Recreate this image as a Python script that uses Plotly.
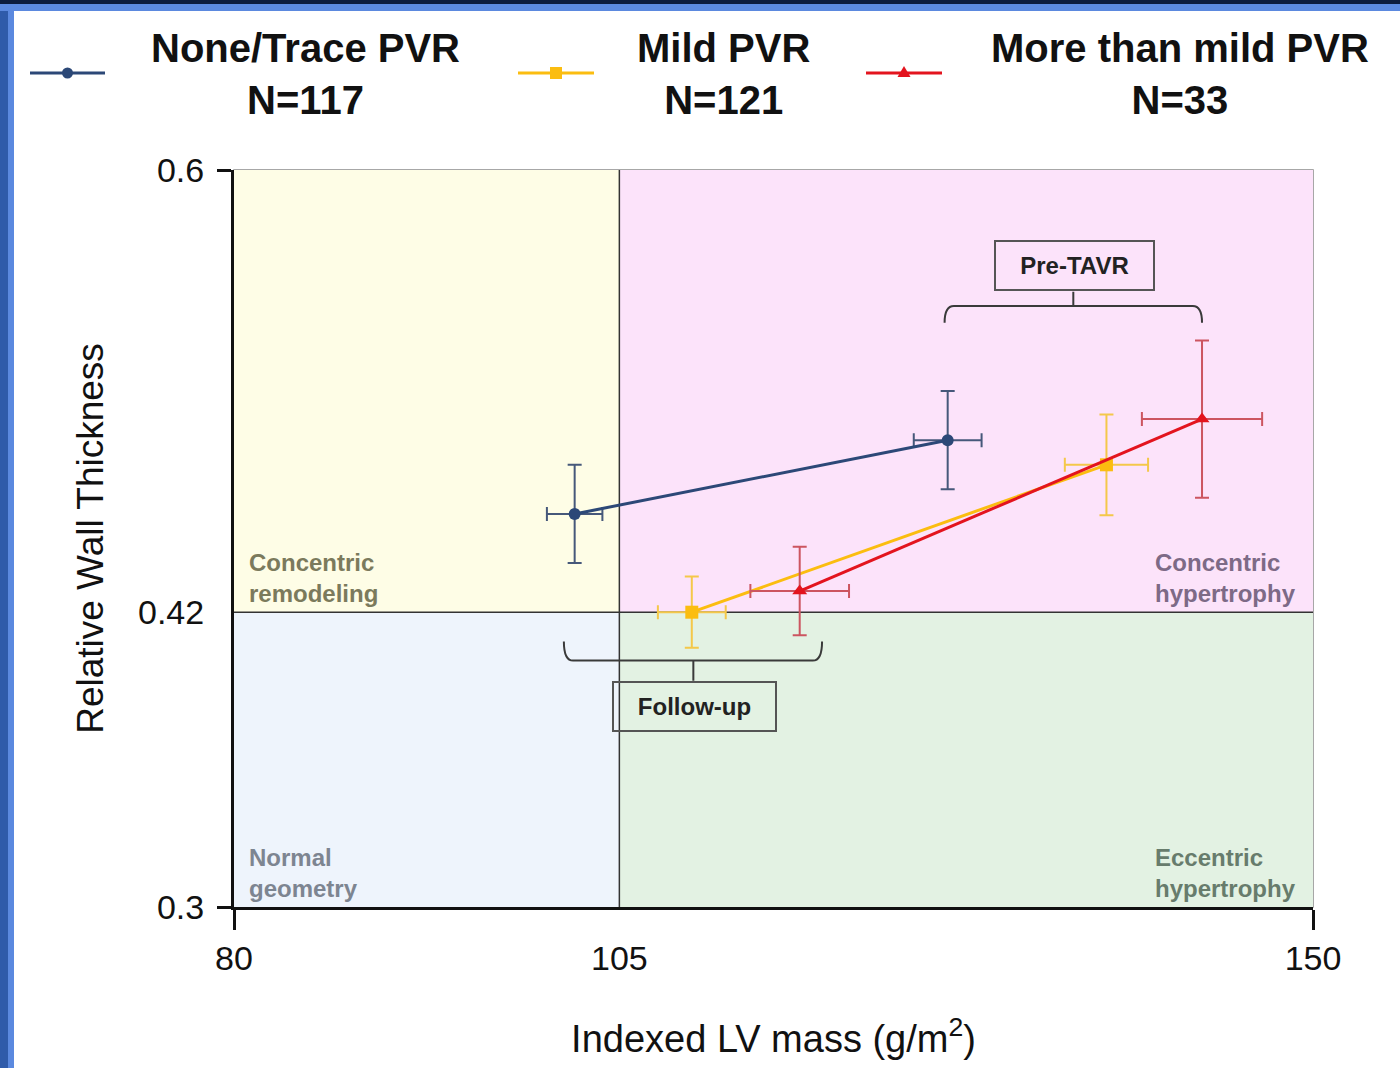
import plotly.graph_objects as go

# ---- axes ----
X_RANGE = [80, 150]
Y_RANGE = [0.3, 0.6]
LVMI_CUT = 105          # g/m2, LV mass index threshold
RWT_CUT = 0.42          # relative wall thickness threshold
x_ticks = [80, 105, 150]
y_ticks = [0.3, 0.42, 0.6]
y_tick_text = ["0.3", "0.42", "0.6"]

# ---- groups ----
groups = ["None/Trace PVR", "Mild PVR", "More than mild PVR"]
group_n = [117, 121, 33]
timepoints = ["Follow-up", "Pre-TAVR"]

# mean values with error half-widths, ordered [follow-up, pre-TAVR]
lvmi_none = [102.1, 126.3]
lvmi_none_err = [1.8, 2.2]
rwt_none = [0.460, 0.490]
rwt_none_err = [0.020, 0.020]

lvmi_mild = [109.7, 136.6]
lvmi_mild_err = [2.2, 2.7]
rwt_mild = [0.420, 0.480]
rwt_mild_err = [0.0145, 0.0205]

lvmi_more = [116.7, 142.8]
lvmi_more_err = [3.2, 3.9]
rwt_more = [0.4286, 0.4986]
rwt_more_err = [0.018, 0.032]

FONT = "Liberation Sans, Arial, Helvetica, sans-serif"

W, H = 1400, 1068
ML, MR, MT, MB = 234, 87, 170, 161
PW, PH = W - ML - MR, H - MT - MB


def px(x):
    """figure pixel column -> paper x"""
    return (x - ML) / PW


def py(y):
    """figure pixel row -> paper y"""
    return (H - MB - y) / PH


series = [
    dict(name=groups[0], x=lvmi_none, xe=lvmi_none_err, y=rwt_none, ye=rwt_none_err,
         color="#2C4877", ecolor="#46587A", symbol="circle", size=12),
    dict(name=groups[1], x=lvmi_mild, xe=lvmi_mild_err, y=rwt_mild, ye=rwt_mild_err,
         color="#FBBD10", ecolor="#F4C84A", symbol="square", size=13),
    dict(name=groups[2], x=lvmi_more, xe=lvmi_more_err, y=rwt_more, ye=rwt_more_err,
         color="#E3141E", ecolor="#CC5560", symbol="triangle-up", size=13),
]

fig = go.Figure()

for s in series:
    fig.add_trace(go.Scatter(
        x=s["x"], y=s["y"], name=s["name"], text=timepoints,
        mode="lines+markers",
        line=dict(color=s["color"], width=3),
        marker=dict(color=s["color"], symbol=s["symbol"], size=s["size"]),
        error_x=dict(type="data", array=s["xe"], color=s["ecolor"], thickness=2, width=7),
        error_y=dict(type="data", array=s["ye"], color=s["ecolor"], thickness=2, width=7),
        showlegend=False,
    ))

shapes = []

# quadrant backgrounds
quads = [
    (X_RANGE[0], LVMI_CUT, RWT_CUT, Y_RANGE[1], "#FEFDE6"),
    (LVMI_CUT, X_RANGE[1], RWT_CUT, Y_RANGE[1], "#FCE3FA"),
    (X_RANGE[0], LVMI_CUT, Y_RANGE[0], RWT_CUT, "#EEF4FC"),
    (LVMI_CUT, X_RANGE[1], Y_RANGE[0], RWT_CUT, "#E3F2E3"),
]
for x0, x1, y0, y1, c in quads:
    shapes.append(dict(type="rect", xref="x", yref="y", x0=x0, x1=x1, y0=y0, y1=y1,
                       fillcolor=c, line=dict(width=0), layer="below"))

# plot frame and quadrant dividers
shapes.append(dict(type="rect", xref="paper", yref="paper", x0=0, x1=1, y0=0, y1=1,
                   line=dict(color="#8A8A8A", width=1.5), layer="below"))
shapes.append(dict(type="line", xref="x", yref="y", x0=LVMI_CUT, x1=LVMI_CUT,
                   y0=Y_RANGE[0], y1=Y_RANGE[1], line=dict(color="#333333", width=1.5), layer="below"))
shapes.append(dict(type="line", xref="x", yref="y", x0=X_RANGE[0], x1=X_RANGE[1],
                   y0=RWT_CUT, y1=RWT_CUT, line=dict(color="#333333", width=1.5), layer="below"))


# brackets grouping the time points
def bracket(x0, x1, y, end, tick, xc, r=0.6):
    return (f"M {x0},{y + end} Q {x0},{y} {x0 + r},{y} L {x1 - r},{y} "
            f"Q {x1},{y} {x1},{y + end} M {xc},{y} L {xc},{y + tick}")


shapes.append(dict(type="path", xref="x", yref="y",
                   path=bracket(126.1, 142.8, 0.5446, -0.0068, 0.0058, 134.45),
                   line=dict(color="#3A3A3A", width=2)))
shapes.append(dict(type="path", xref="x", yref="y",
                   path=bracket(101.4, 118.15, 0.4003, 0.0078, -0.0082, 109.8),
                   line=dict(color="#3A3A3A", width=2)))

# outer frame of the panel
shapes.append(dict(type="rect", xref="paper", yref="paper", x0=px(0), x1=px(14),
                   y0=py(H), y1=py(0), fillcolor="#5B89DF", line=dict(width=0)))
shapes.append(dict(type="rect", xref="paper", yref="paper", x0=px(0), x1=px(8),
                   y0=py(H), y1=py(0), fillcolor="#2F5BAA", line=dict(width=0)))
shapes.append(dict(type="rect", xref="paper", yref="paper", x0=px(0), x1=px(W),
                   y0=py(11), y1=py(0), fillcolor="#5B89DF", line=dict(width=0)))
shapes.append(dict(type="rect", xref="paper", yref="paper", x0=px(0), x1=px(W),
                   y0=py(4), y1=py(0), fillcolor="#0C1B3D", line=dict(width=0)))

# legend samples
legend_x = [(30, 105), (518, 594), (866, 942)]
ly = 73
for (a, b), s in zip(legend_x, series):
    shapes.append(dict(type="line", xref="paper", yref="paper", x0=px(a), x1=px(b),
                       y0=py(ly), y1=py(ly), line=dict(color=s["color"], width=3)))
    m = (a + b) / 2
    if s["symbol"] == "circle":
        shapes.append(dict(type="circle", xref="paper", yref="paper",
                           x0=px(m - 5.5), x1=px(m + 5.5), y0=py(ly + 5.5), y1=py(ly - 5.5),
                           fillcolor=s["color"], line=dict(width=0)))
    elif s["symbol"] == "square":
        shapes.append(dict(type="rect", xref="paper", yref="paper",
                           x0=px(m - 6), x1=px(m + 6), y0=py(ly + 6), y1=py(ly - 6),
                           fillcolor=s["color"], line=dict(width=0)))
    else:
        shapes.append(dict(type="path", xref="paper", yref="paper",
                           path=(f"M {px(m - 6.5)},{py(ly + 4)} L {px(m + 6.5)},{py(ly + 4)} "
                                 f"L {px(m)},{py(ly - 7)} Z"),
                           fillcolor=s["color"], line=dict(width=0)))

annotations = []
legend_cx = [305, 723, 1180]
for cx, g, n in zip(legend_cx, groups, group_n):
    annotations.append(dict(xref="paper", yref="paper", x=px(cx), y=py(74),
                            xanchor="center", yanchor="middle", align="center",
                            text=f"<b>{g}</b><br><b>N={n}</b>", showarrow=False,
                            font=dict(family=FONT, size=40, color="#111111")))

# phenotype labels in each quadrant
region_labels = [
    ("Concentric<br>remodeling", 80.85, 0.4213, "#7B7A5C"),
    ("Concentric<br>hypertrophy", 139.6, 0.4213, "#7D6A86"),
    ("Normal<br>geometry", 80.85, 0.3013, "#7D8591"),
    ("Eccentric<br>hypertrophy", 139.6, 0.3013, "#677C6C"),
]
for t, x, y, c in region_labels:
    annotations.append(dict(xref="x", yref="y", x=x, y=y, xanchor="left", yanchor="bottom",
                            align="left", text=f"<b>{t}</b>", showarrow=False,
                            font=dict(family=FONT, size=24, color=c)))

# boxed time-point labels
annotations.append(dict(xref="x", yref="y", x=134.5, y=0.5611, text="<b>Pre-TAVR</b>",
                        showarrow=False, width=157, height=47, align="center", valign="middle",
                        bordercolor="#555555", borderwidth=2, borderpad=0,
                        font=dict(family=FONT, size=24, color="#222222")))
annotations.append(dict(xref="x", yref="y", x=109.88, y=0.3816, text="<b>Follow-up</b>",
                        showarrow=False, width=161, height=47, align="center", valign="middle",
                        bordercolor="#555555", borderwidth=2, borderpad=0,
                        font=dict(family=FONT, size=24, color="#222222")))

fig.update_layout(
    width=W, height=H,
    margin=dict(l=ML, r=MR, t=MT, b=MB),
    paper_bgcolor="white", plot_bgcolor="white",
    font=dict(family=FONT, color="#111111"),
    shapes=shapes, annotations=annotations,
    showlegend=False,
)

fig.update_xaxes(
    range=X_RANGE, tickvals=x_ticks, ticktext=[str(v) for v in x_ticks],
    showgrid=False, zeroline=False, ticks="", ticklabelstandoff=19,
    showline=True, linecolor="#111111", linewidth=3,
    tickfont=dict(family=FONT, size=34, color="#111111"),
    minor=dict(tickvals=[X_RANGE[0], X_RANGE[1]], ticks="outside", ticklen=20,
               tickwidth=2.5, tickcolor="#111111", showgrid=False),
    title=dict(text="Indexed LV mass (g/m<sup>2</sup>)", standoff=50,
               font=dict(family=FONT, size=38, color="#111111")),
    automargin=False,
)
fig.update_yaxes(
    range=Y_RANGE, tickvals=y_ticks, ticktext=y_tick_text,
    showgrid=False, zeroline=False, ticks="", ticklabelstandoff=20,
    showline=True, linecolor="#111111", linewidth=3,
    tickfont=dict(family=FONT, size=34, color="#111111"),
    minor=dict(tickvals=[Y_RANGE[0], Y_RANGE[1]], ticks="outside", ticklen=14,
               tickwidth=2.5, tickcolor="#111111", showgrid=False),
    title=dict(text="Relative Wall Thickness", standoff=24,
               font=dict(family=FONT, size=37, color="#111111")),
    automargin=False,
)

fig.write_html("out.html")
